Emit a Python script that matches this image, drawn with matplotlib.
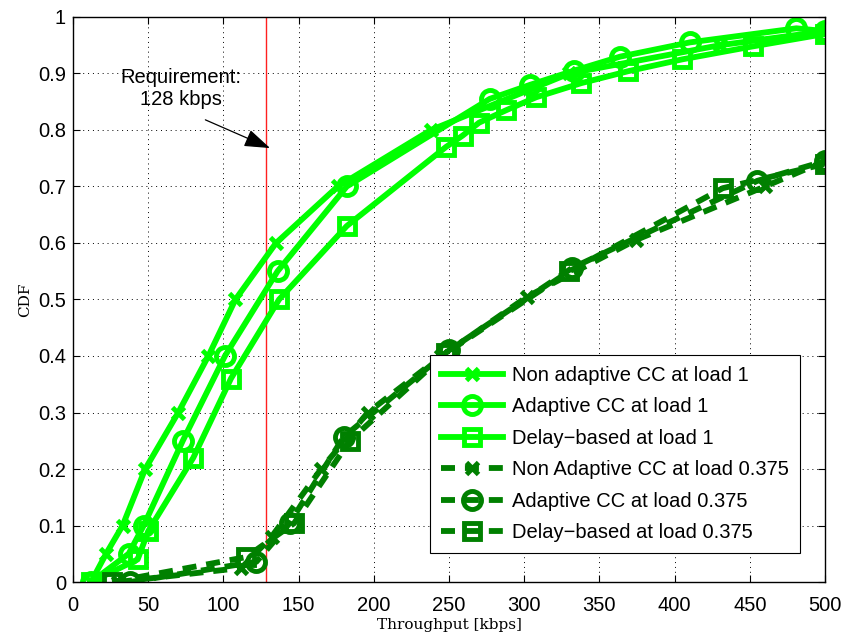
import matplotlib
matplotlib.use("Agg")
import matplotlib.pyplot as plt

# CDF of per-user throughput [kbps], load 1 (solid) and load 0.375 (dashed)
na1_x = [12, 22, 33, 48, 70, 90, 108, 135, 176, 238, 330, 430, 500]
na1_y = [0, 0.05, 0.1, 0.2, 0.3, 0.4, 0.5, 0.6, 0.7, 0.8, 0.9, 0.95, 0.975]

ad1_x = [12, 37, 47, 73, 101, 136, 182, 277, 304, 333, 364, 410, 481, 500]
ad1_y = [0, 0.05, 0.1, 0.25, 0.4, 0.55, 0.7, 0.855, 0.88, 0.905, 0.93, 0.955, 0.98, 0.975]

db1_x = [12, 43, 50, 80, 105, 137, 182, 248, 259, 270, 288, 308, 338, 369, 405, 452, 500]
db1_y = [0, 0.04, 0.09, 0.22, 0.36, 0.5, 0.63, 0.77, 0.79, 0.813, 0.835, 0.858,
         0.883, 0.904, 0.925, 0.948, 0.97]

na3_x = [30, 112, 132, 165, 196, 245, 302, 374, 460, 500]
na3_y = [0, 0.025, 0.08, 0.2, 0.3, 0.4, 0.505, 0.605, 0.7, 0.745]

ad3_x = [38, 122, 144, 180, 250, 332, 455, 500]
ad3_y = [0, 0.036, 0.104, 0.257, 0.41, 0.556, 0.71, 0.745]

db3_x = [26, 115, 147, 184, 248, 330, 432, 500]
db3_y = [0, 0.044, 0.104, 0.25, 0.405, 0.55, 0.697, 0.74]

labels = ["Non adaptive CC at load 1", "Adaptive CC at load 1",
          "Delay\u2212based at load 1", "Non Adaptive CC at load 0.375",
          "Adaptive CC at load 0.375", "Delay\u2212based at load 0.375"]

requirement = 128

LIGHT = "#00ff00"
DARK = "#008000"
DASH = (0, (2.4, 1.7))
SANS = ["Liberation Sans", "DejaVu Sans"]

fig = plt.figure(figsize=(8.44, 6.39), dpi=100)
ax = fig.add_axes([0.0865, 0.0892, 0.891, 0.8842])

series = [
    (na1_x, na1_y, LIGHT, "-", "x", 9),
    (ad1_x, ad1_y, LIGHT, "-", "o", 13),
    (db1_x, db1_y, LIGHT, "-", "s", 12),
    (na3_x, na3_y, DARK, DASH, "x", 9),
    (ad3_x, ad3_y, DARK, DASH, "o", 13),
    (db3_x, db3_y, DARK, DASH, "s", 12),
]
for (xs, ys, col, ls, mk, ms), lab in zip(series, labels):
    ax.plot(xs, ys, color=col, linestyle=ls, linewidth=4.2, marker=mk,
            markersize=ms, markerfacecolor="none", markeredgecolor=col,
            markeredgewidth=3.5, label=lab)

ax.axvline(requirement, color="#ff2020", linewidth=1.0, zorder=1)

# requirement label with its arrow pointing at the red line
ax.text(72, 0.874, "Requirement:\n128 kbps", ha="center", va="center",
        fontsize=14.5, family=SANS, linespacing=1.2)
ax.annotate("", xy=(131, 0.768), xytext=(88, 0.818),
            arrowprops=dict(arrowstyle="-|>,head_length=1.6,head_width=0.55",
                            color="black", lw=0.9, shrinkA=0, shrinkB=0))

ax.set_xlim(0, 500)
ax.set_ylim(0, 1)
ax.set_xticks(range(0, 501, 50))
ax.set_yticks([i / 10 for i in range(11)])
ax.set_yticklabels(["0", "0.1", "0.2", "0.3", "0.4", "0.5", "0.6", "0.7",
                    "0.8", "0.9", "1"])
ax.tick_params(direction="in", top=True, right=True, length=5, width=0.8,
               labelsize=14.5)
ax.tick_params(axis="x", pad=10)
ax.tick_params(axis="y", pad=5)
for lab in ax.get_xticklabels() + ax.get_yticklabels():
    lab.set_family(SANS)
ax.grid(True, linestyle=(0, (1, 4)), color="black", linewidth=0.7)
for sp in ax.spines.values():
    sp.set_linewidth(1.0)

ax.set_xlabel("Throughput [kbps]", fontsize=11, family="DejaVu Serif",
              labelpad=2)
ax.set_ylabel("CDF", fontsize=11, family="DejaVu Serif", labelpad=4)

leg = ax.legend(loc="lower right", bbox_to_anchor=(0.967, 0.051),
                fancybox=False, framealpha=1, edgecolor="black",
                handlelength=3.1, borderpad=0.55, labelspacing=0.62,
                handletextpad=0.45, borderaxespad=0,
                prop={"family": SANS, "size": 14.5})
leg.get_frame().set_linewidth(0.8)

fig.savefig("out.png", dpi=100)
